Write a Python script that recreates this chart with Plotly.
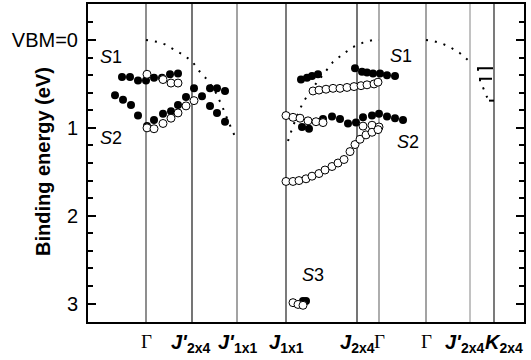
import plotly.graph_objects as go

# Path through the Brillouin zone (arbitrary k units) and symmetry points
sym_k = [58, 104, 149, 198, 269, 291, 338, 382, 406]
sym_name = ["Γ", "J'", "J'", "J", "J", "Γ", "Γ", "J'", "K"]
sym_sub = ["", "2x4", "1x1", "1x1", "2x4", "", "", "2x4", "2x4"]
sym_label_shift = [0, -2, 0, 0, 0, 0, 0, -6, 10]
sym_line_color = ["#444444", "#1a1a1a", "#666666", "#222222", "#1a1a1a",
                  "#777777", "#666666", "#999999", "#222222"]

# Filled symbols (binding energy, eV)
full_k = [34, 42, 50, 58, 66, 74, 82, 90,
          27, 35, 43, 50, 59, 66, 75, 83, 90, 98, 106, 114, 122, 129, 137, 122, 129, 137,
          213, 219, 224, 230,
          267, 274, 279, 285, 292, 299, 307,
          214, 221, 235, 244, 252, 260, 268, 275, 284, 291, 299, 307, 315,
          215, 218]
full_e = [0.42, 0.42, 0.46, 0.46, 0.43, 0.43, 0.39, 0.38,
          0.63, 0.68, 0.74, 0.86, 0.98, 0.91, 0.84, 0.81, 0.74, 0.65, 0.55, 0.64, 0.55, 0.55, 0.58, 0.75, 0.83, 0.93,
          0.45, 0.43, 0.41, 0.39,
          0.32, 0.36, 0.37, 0.38, 0.38, 0.40, 0.41,
          0.99, 1.01, 0.90, 0.87, 0.90, 0.95, 0.94, 0.88, 0.86, 0.84, 0.87, 0.89, 0.91,
          2.97, 2.97]

# Open symbols (binding energy, eV)
open_k = [59, 75, 83, 90,
          59, 66, 75, 83, 90, 98, 106,
          225, 231, 238, 245, 252, 259, 266, 273, 279, 286, 290,
          198, 205, 212, 220, 228, 235,
          275, 284, 291,
          198, 205, 211, 218, 224, 231, 237, 244, 250, 256, 262, 267, 272, 278, 284, 290,
          205, 210, 215]
open_e = [0.39, 0.45, 0.49, 0.49,
          1.00, 1.01, 0.95, 0.89, 0.83, 0.75, 0.69,
          0.58, 0.57, 0.56, 0.55, 0.55, 0.54, 0.53, 0.52, 0.51, 0.50, 0.48,
          0.86, 0.88, 0.89, 0.92, 0.93, 0.94,
          0.98, 0.97, 0.99,
          1.61, 1.61, 1.60, 1.58, 1.55, 1.52, 1.48, 1.44, 1.40, 1.36, 1.27, 1.19, 1.13, 1.08, 1.05, 1.02,
          2.99, 3.01, 3.02]

# Bulk valence band edge (dotted)
bulk_k = [58, 69, 77, 85, 94, 104, 111, 119, 127, 134, 140, 149, None,
          200, 205, 210, 215, 225, 235, 245, 255, 265, 275, 285, 291, None,
          338, 345, 354, 362, 372, 382, None,
          395, 397, 399, 401]
bulk_e = [0.00, 0.02, 0.05, 0.10, 0.16, 0.24, 0.35, 0.45, 0.58, 0.75, 0.92, 1.15, None,
          1.15, 0.98, 0.84, 0.71, 0.54, 0.39, 0.25, 0.16, 0.08, 0.03, 0.00, 0.00, None,
          0.00, 0.01, 0.04, 0.08, 0.15, 0.25, None,
          0.54, 0.60, 0.65, 0.69]

# Small brackets near K
mark_k = [390, 390, 405, None, 392, 392, 404, None, 401, 406]
mark_e = [0.35, 0.32, 0.32, None, 0.47, 0.44, 0.44, None, 0.69, 0.69]

labels = [("<i>S</i>1", 23, 0.19), ("<i>S</i>2", 23, 1.12),
          ("<i>S</i>1", 313, 0.18), ("<i>S</i>2", 320, 1.16),
          ("<i>S</i>3", 225, 2.68)]

SANS = "Liberation Sans, Arial"
fig = go.Figure()

for k, c in zip(sym_k, sym_line_color):
    fig.add_shape(type="line", x0=k, x1=k, y0=0, y1=1, xref="x", yref="paper",
                  line=dict(color=c, width=1.2), layer="below")

fig.add_trace(go.Scatter(x=bulk_k, y=bulk_e, mode="lines",
                         line=dict(color="black", width=2, dash="2px,7px"),
                         hoverinfo="skip", showlegend=False))
fig.add_trace(go.Scatter(x=mark_k, y=mark_e, mode="lines",
                         line=dict(color="black", width=2),
                         hoverinfo="skip", showlegend=False))
fig.add_trace(go.Scatter(x=full_k, y=full_e, mode="markers",
                         marker=dict(size=8, color="black", line=dict(width=0)),
                         showlegend=False))
fig.add_trace(go.Scatter(x=open_k, y=open_e, mode="markers",
                         marker=dict(size=8, color="white",
                                     line=dict(color="black", width=1)),
                         showlegend=False))

for txt, k, e in labels:
    fig.add_annotation(x=k, y=e, text=txt, showarrow=False,
                       font=dict(family=SANS, size=18, color="black"))

# Symmetry-point labels under the axis
for k, name, sub, dk in zip(sym_k, sym_name, sym_sub, sym_label_shift):
    if name == "Γ":
        fig.add_annotation(x=k + dk, xref="x", yref="paper", y=-0.022, yanchor="top",
                           text="Γ", showarrow=False,
                           font=dict(family="Liberation Serif", size=19, color="black"))
    else:
        fig.add_annotation(x=k + dk, xref="x", yref="paper", y=-0.022, yanchor="top",
                           text=f"<b><i>{name}</i></b><sub><b>{sub}</b></sub>",
                           showarrow=False,
                           font=dict(family=SANS, size=20, color="black"))

fig.add_annotation(xref="paper", yref="paper", x=-0.133, y=0.503,
                   text="<b>Binding energy (eV)</b>", textangle=-90, showarrow=False,
                   font=dict(family=SANS, size=20, color="black"))

fig.update_xaxes(range=[0, 436], showticklabels=False, automargin=False,
                 showgrid=False, zeroline=False, showline=True, linewidth=2,
                 linecolor="black", mirror=True, ticks="")
fig.update_yaxes(range=[3.21, -0.41], tickvals=[0, 1, 2, 3],
                 ticktext=["VBM=0", "1", "2", "3"], automargin=False,
                 showgrid=False, zeroline=False, showline=True, linewidth=2,
                 linecolor="black", mirror="ticks", ticks="inside", ticklen=8,
                 tickwidth=2, tickcolor="black", ticklabelstandoff=4,
                 minor=dict(dtick=0.2, ticks="inside", ticklen=5, tickwidth=2,
                            tickcolor="black", showgrid=False),
                 tickfont=dict(family=SANS, size=20, color="black"))

fig.update_layout(width=531, height=360, margin=dict(l=88, r=7, t=4, b=38),
                  plot_bgcolor="white", paper_bgcolor="white")

fig.write_html("out.html")
